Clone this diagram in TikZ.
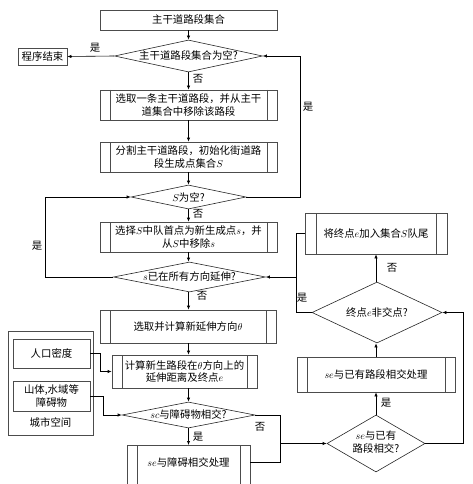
\documentclass[tikz,border=0pt]{standalone}
\usepackage{fontspec}
\setmainfont{Noto Sans CJK SC}
\usetikzlibrary{shapes.geometric,arrows.meta}
\begin{document}
\begin{tikzpicture}[x=1pt,y=-1pt,
  font=\fontsize{10.4pt}{12.6pt}\selectfont,
  box/.style={draw=black!70,line width=0.6pt,align=center,inner sep=0pt},
  pbox/.style={box,path picture={\draw[black!70,line width=0.6pt]
     ([xshift=#1]path picture bounding box.north west) -- ([xshift=#1]path picture bounding box.south west)
     ([xshift=-#1]path picture bounding box.north east) -- ([xshift=-#1]path picture bounding box.south east);}},
  pbox/.default=10pt,
  dia/.style={diamond,draw=black!85,line width=0.6pt,inner sep=0pt},
  lab/.style={inner sep=0pt},
  arr/.style={-{Latex[length=4pt,width=3.2pt]},line width=0.6pt},
  ln/.style={line width=0.6pt}]
\useasboundingbox (0,0) rectangle (473,484);
\clip (0,0) rectangle (473,484);
% main column
\node[box,minimum width=177pt,minimum height=20pt] (n0) at (188.5,20) {主干道路段集合};
\node[dia,minimum width=148pt,minimum height=32pt] (d1) at (188.5,56) {\makebox[0pt]{主干道路段集合为空?}};
\node[box,minimum width=49pt,minimum height=17pt] (end) at (42.5,56.5) {程序结束};
\node[pbox,minimum width=177pt,minimum height=30pt] (p1) at (188.5,105) {选取一条主干道路段，并从主干\\道集合中移除该路段};
\node[pbox,minimum width=177pt,minimum height=30pt] (p2) at (188.5,157) {分割主干道路段，初始化街道路\\段生成点集合$S$};
\node[dia,minimum width=115pt,minimum height=24pt] (d2) at (188.5,197) {\makebox[0pt]{$S$为空?}};
\node[pbox,minimum width=177pt,minimum height=30pt] (p3) at (188.5,237) {选择$S$中队首点为新生成点$s$，并\\从$S$中移除$s$};
\node[dia,minimum width=152pt,minimum height=30pt] (d3) at (189.5,277) {\makebox[0pt]{$s$已在所有方向延伸?}};
\node[pbox,minimum width=176pt,minimum height=33pt] (p4) at (188,326.5) {选取并计算新延伸方向$\theta$};
\node[pbox,minimum width=145pt,minimum height=33pt] (p5) at (184.5,371.5) {计算新生路段在$\theta$方向上的\\延伸距离及终点$e$};
\node[dia,minimum width=133pt,minimum height=26pt] (d4) at (188.5,415) {\makebox[0pt]{$sc$与障碍物相交?}};
\node[pbox,minimum width=123pt,minimum height=45pt,anchor=north,text height=18pt,text depth=21pt,inner ysep=3pt] (p6) at (188.5,445) {$se$与障碍相交处理};
% right column
\node[pbox=11pt,minimum width=142pt,minimum height=41pt] (p8) at (376,233.5) {将终点$e$加入集合$S$队尾};
\node[dia,minimum width=130pt,minimum height=61pt] (d6) at (377,312.5) {\makebox[0pt]{终点$e$非交点?}};
\node[pbox,minimum width=158pt,minimum height=35pt] (p7) at (376,374.5) {$se$与已有路段相交处理};
\node[dia,minimum width=98pt,minimum height=57pt] (d5) at (376,443.5) {\makebox[0pt]{\begin{tabular}{@{}c@{}}$se$与已有\\路段相交?\end{tabular}}};
% left group
\node[draw=black!70,line width=0.6pt,minimum width=85pt,minimum height=104pt,inner sep=0pt] (city) at (50.5,383) {};
\node[lab] (cityl) at (50.5,423) {城市空间};
\node[box,minimum width=77pt,minimum height=29pt] (pop) at (51.5,353.5) {人口密度};
\node[box,minimum width=77pt,minimum height=30pt] (obs) at (51.5,396) {山体,水域等\\障碍物};
% helper coordinates
\coordinate (xr1) at (300,0);
\coordinate (xl1) at (45,0);
\coordinate (xr2) at (463,0);
\coordinate (xm) at (296,0);
\coordinate (xp) at (100,0);
\coordinate (xo) at (103,0);
\coordinate (j1) at (280,462);
\coordinate (j2) at (280,443.5);
% connectors
\draw[arr] (n0.south) -- (d1.north);
\draw[arr] (d1.west) -- (end.east);
\draw[arr] (d1.south) -- (p1.north);
\draw[arr] (p1.south) -- (p2.north);
\draw[arr] (p2.south) -- (d2.north);
\draw[arr] (d2.east) -- (d2.east -| xr1) |- (d1.east);
\draw[arr] (d2.south) -- (p3.north);
\draw[arr] (p3.south) -- (p3.south |- d3.north);
\draw[arr] (d3.west) -- (d3.west -| xl1) |- (d2.west);
\draw[arr] (p3.south |- d3.south) -- (p3.south |- p4.north);
\draw[arr] (p3.south |- p4.south) -- (p3.south |- p5.north);
\draw[arr] (p3.south |- p5.south) -- (d4.north);
\draw[arr] (d4.south) -- (p6.north);
\draw[ln] (d4.east) -| (j1) -- (j1 -| p6.east);
\draw[arr] (j2) -- (d5.west);
\draw[arr] (d5.north) -- (p7.south);
\draw[arr] (p7.north) -- (p7.north |- d6.south);
\draw[arr] (p7.north |- d6.north) -- (p8.south);
\draw[arr] (d5.east) -- (d5.east -| xr2) |- (d6.east);
\draw[arr] (d6.west) -- (d6.west -| xm) |- (d3.east);
\draw[ln] (p8.west) -- (p8.west -| xm) -- (xm |- d3.east);
\draw[arr] (pop.east) -- (pop.east -| xp) |- (p5.west);
\draw[arr] (obs.east) -- (obs.east -| xo) |- (d4.west);
% labels
\node[lab] (l1) at (95,48) {是};
\node[lab] (l2) at (198,79) {否};
\node[lab] (l3) at (308,107) {是};
\node[lab] (l4) at (198,214) {否};
\node[lab] (l5) at (37,246) {是};
\node[lab] (l6) at (202,296) {否};
\node[lab] (l7) at (198,437) {是};
\node[lab] (l8) at (260,427) {否};
\node[lab] (l9) at (386,403) {是};
\node[lab] (l10) at (392,268) {否};
\node[lab] (l11) at (302,298) {是};
\end{tikzpicture}
\end{document}
